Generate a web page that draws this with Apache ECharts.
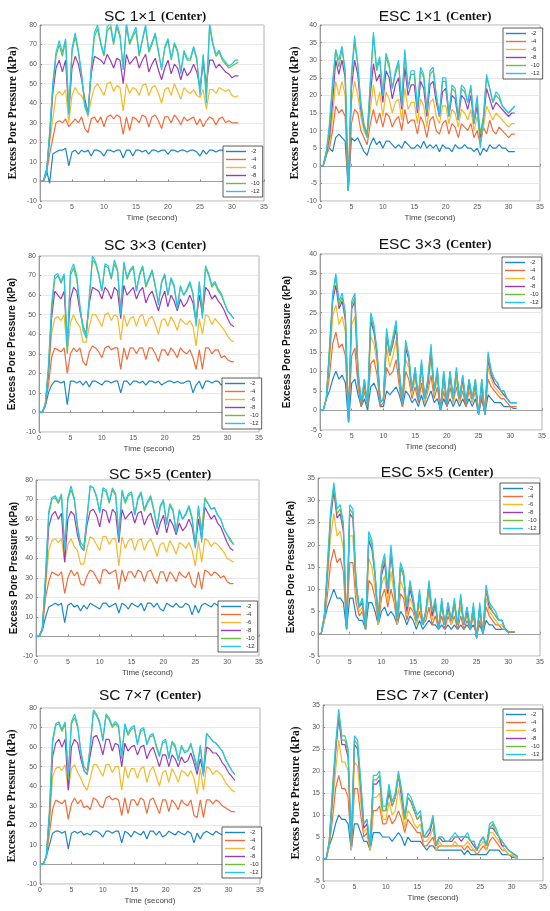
<!DOCTYPE html>
<html>
<head>
<meta charset="utf-8">
<script src="https://cdn.jsdelivr.net/npm/echarts@6/dist/echarts.min.js"></script>
<style>
  html, body { margin: 0; padding: 0; background: #fff; }
  #main { width: 550px; height: 911px; }
</style>
</head>
<body>
<div id="main"></div>
<script>
// time axis (s)
const T = [0,0.5,1,1.5,2,2.5,3,3.5,4,4.5, 5,5.5,6,6.5,7,7.5,8,8.5,9,9.5, 10,10.5,11,11.5,12,12.5,13,13.5,14,14.5, 15,15.5,16,16.5,17,17.5,18,18.5,19,19.5, 20,20.5,21,21.5,22,22.5,23,23.5,24,24.5, 25,25.5,26,26.5,27,27.5,28,28.5,29,29.5, 30,30.5,31];
const DEPTHS = ['-2', '-4', '-6', '-8', '-10', '-12'];

// SC 1x1
const SC1_2  = [0,0,6,-1,14,15,16,16,17,8, 15,16,14,16,15,16,13,16,16,15, 13,16,16,15,16,16,12,16,16,13, 16,16,15,16,14,16,16,15,16,16, 14,16,16,15,16,16,15,16,16,15, 13,16,14,16,16,15,16,16,15,15, 14,15,15];
const SC1_4  = [0,0,4,14,22,30,31,30,32,28, 30,32,30,33,27,25,32,33,30,33, 28,33,34,32,34,33,24,33,26,33, 32,30,34,33,28,33,34,31,27,33, 33,30,34,32,29,33,31,32,33,29, 32,28,31,33,32,29,32,33,30,31, 30,30,30];
const SC1_6  = [0,0,4,20,32,44,46,44,47,30, 44,48,45,44,40,33,42,48,50,47, 44,50,51,46,49,48,36,50,45,48, 47,44,49,50,44,48,49,45,40,47, 48,44,50,46,42,48,46,45,47,44, 43,47,37,47,47,45,48,47,46,47, 44,43,44];
const SC1_8  = [0,0,4,22,45,58,62,56,62,35, 58,64,60,52,42,35,55,64,63,62, 60,65,62,58,63,62,50,65,60,62, 64,58,62,65,56,60,63,57,52,58, 62,55,60,58,52,58,54,56,60,56, 48,60,50,62,62,58,60,58,56,55, 53,54,54];
const SC1_10 = [0,0,4,24,48,64,70,64,72,36, 66,74,66,54,40,35,57,74,78,70, 64,77,79,70,79,74,58,79,70,74, 77,64,72,79,66,70,75,66,58,68, 72,62,70,66,56,66,62,62,68,62, 46,64,46,79,70,64,66,62,60,58, 59,60,61];
const SC1_12 = [0,0,4,25,50,66,72,66,73,34, 68,76,67,55,38,34,58,76,80,71, 65,79,81,71,81,75,57,81,71,75, 79,65,73,80,67,71,76,67,57,69, 73,63,71,67,55,67,63,63,69,63, 44,65,40,81,71,65,67,63,61,59, 60,62,62];

// ESC 1x1
const ESC1_2  = [0,0,4,5,4,8,9,8,7,-7, 8,7,8,6,4,3,6,8,6,7, 5,7,7,6,5,6,5,7,6,5, 5,6,5,7,5,6,5,6,4,6, 5,5,4,6,5,5,6,5,5,4, 5,3,5,4,6,5,5,6,5,5, 4,4,4];
const ESC1_4  = [0,0,3,5,10,17,15,16,14,-7, 12,16,15,10,8,6,12,16,12,15, 11,15,14,11,13,14,10,16,12,13, 13,9,14,12,8,13,14,10,9,12, 13,9,12,11,8,12,11,10,12,8, 10,6,11,9,13,10,9,11,10,9, 8,9,9];
const ESC1_6  = [0,0,3,6,14,24,20,24,20,-7, 18,24,20,14,10,8,16,23,17,21, 14,21,19,15,18,19,13,22,16,18, 18,12,19,17,11,18,19,14,12,17, 17,12,16,15,11,16,15,13,16,10, 14,7,11,17,15,13,15,14,13,12, 11,12,12];
const ESC1_8  = [0,0,3,8,18,30,26,30,25,-7, 22,30,26,16,11,9,20,29,24,26, 18,27,25,19,23,25,16,28,20,23, 23,15,24,22,14,23,24,18,14,21, 22,14,20,19,13,20,19,16,20,12, 17,8,13,22,19,16,18,17,16,15, 14,15,15];
const ESC1_10 = [0,0,3,10,22,33,28,33,27,-7, 25,35,29,18,12,9,23,37,27,30, 20,31,28,22,26,29,18,32,22,26, 26,17,27,25,16,26,27,20,15,24, 24,15,22,21,14,22,21,18,22,13, 19,9,14,25,22,18,20,19,17,16, 15,16,17];
const ESC1_12 = [0,0,4,12,24,33,30,34,27,-7, 26,37,29,17,11,8,24,38,28,31, 20,32,29,22,27,30,17,33,22,27, 27,16,28,26,15,27,28,20,14,25, 25,14,23,22,13,23,22,18,23,12, 20,5,14,26,22,18,21,20,17,16, 15,16,17];

// SC 3x3
const SC3_2  = [0,0,3,10,14,16,16,15,16,4, 16,16,15,16,14,16,13,16,16,15, 14,16,16,15,16,16,10,16,16,14, 16,16,15,16,14,16,16,15,16,14, 15,16,16,15,16,15,15,16,16,10, 14,16,12,16,16,15,16,16,14,15, 15,15,15];
const SC3_4  = [0,0,4,14,28,33,32,31,33,20, 30,33,31,33,26,24,31,34,33,31, 28,33,34,32,33,33,22,33,27,33, 33,30,33,33,27,33,33,30,26,32, 32,29,33,31,28,33,31,30,32,28, 22,32,22,33,33,30,32,32,28,29, 27,26,26];
const SC3_6  = [0,0,4,18,40,48,49,47,50,30, 46,50,46,44,36,36,44,50,50,47, 44,50,51,47,50,49,37,50,44,48, 49,44,49,50,44,48,49,45,40,47, 48,44,49,46,42,48,46,45,47,44, 34,48,40,50,49,45,48,46,44,42, 39,37,36];
const SC3_8  = [0,0,4,20,48,62,60,58,62,35, 58,64,62,52,44,40,56,64,63,62, 58,64,62,58,64,62,48,65,60,62, 64,58,62,64,56,60,62,57,52,58, 62,54,60,57,52,58,54,56,60,56, 46,60,50,64,62,58,60,57,55,52, 48,45,44];
const SC3_10 = [0,0,4,22,52,68,70,66,70,34, 70,74,68,54,44,40,58,78,76,70, 62,75,74,68,76,72,52,76,68,72, 74,62,70,74,64,68,72,64,56,66, 70,60,68,64,54,64,60,62,66,60, 46,66,52,74,70,64,66,62,60,56, 52,50,48];
const SC3_12 = [0,0,4,24,55,70,71,67,71,30, 72,76,70,55,42,38,59,80,77,71, 62,76,75,69,78,73,50,77,69,73, 75,62,71,75,65,69,73,65,55,67, 71,60,69,65,53,65,60,63,67,61, 44,67,48,75,71,65,67,63,61,56, 52,50,48];

// ESC 3x3
const ESC3_2  = [0,0,3,5,8,10,8,9,7,-3, 7,8,4,1,3,0,6,7,5,1, 1,5,4,5,6,4,1,5,4,2, 3,1,4,1,3,5,2,3,0,3, 1,3,1,3,1,3,1,3,1,3, -1,3,-1,4,3,2,2,2,1,1, 1,0.5,0.5];
const ESC3_4  = [0,0,3,9,17,20,16,17,14,-2, 14,16,6,1,5,1,12,13,9,1, 2,11,9,10,13,6,1,10,8,3, 6,2,7,2,5,9,3,6,0,5, 1,6,2,6,2,5,1,5,2,5, -1,4,-1,8,6,5,4,3,3,2, 1,1,1];
const ESC3_6  = [0,0,3,12,24,27,22,24,20,-2, 22,24,8,2,6,1,19,17,12,2, 3,16,11,14,18,8,2,13,11,4, 8,3,10,2,6,13,4,8,0,7, 2,8,2,8,2,7,2,6,2,6, -1,6,-1,11,8,6,5,4,4,3, 2,2,2];
const ESC3_8  = [0,0,3,15,28,32,26,28,23,-3, 26,28,9,2,7,1,23,20,14,2, 3,19,14,17,21,9,2,16,13,5, 10,3,12,3,7,15,5,10,0,9, 2,9,3,10,3,8,2,7,3,7, -1,7,-1,13,9,7,6,5,4,3, 2,2,2];
const ESC3_10 = [0,0,3,16,29,34,27,29,24,-3, 27,29,10,2,8,1,24,21,15,2, 3,20,14,18,22,10,2,17,14,5, 11,3,12,3,8,16,5,10,0,10, 2,10,3,10,3,9,2,8,3,8, -1,8,-1,14,10,8,7,5,5,3, 2,2,2];
const ESC3_12 = [0,0,3,16,30,35,28,30,25,-3, 28,30,10,2,8,1,25,22,15,2, 3,21,15,19,23,10,2,18,14,5, 11,3,13,3,8,17,5,11,0,10, 2,10,3,11,3,9,2,8,3,8, -1,8,-1,15,10,8,7,5,5,3, 2,2,2];

// SC 5x5
const SC5_2  = [0,0,3,10,15,16,17,16,17,7, 16,17,15,16,13,16,14,17,16,15, 14,17,17,15,16,17,12,17,16,14, 17,16,15,17,13,17,17,15,17,14, 13,17,16,15,17,15,15,17,16,11, 16,12,16,17,16,15,17,16,15,16, 15,15,15];
const SC5_4  = [0,0,4,20,28,33,32,31,33,22, 30,34,31,33,27,26,31,34,33,30, 27,34,34,32,33,34,24,34,28,33, 33,30,34,33,28,33,34,30,27,33, 33,28,33,31,28,33,31,30,33,27, 25,33,24,34,33,31,33,32,30,31, 28,27,27];
const SC5_6  = [0,0,4,25,44,49,50,48,50,38, 47,50,46,44,37,37,45,51,50,47, 44,51,51,47,50,50,36,51,45,49, 50,44,49,50,44,48,50,46,41,47, 48,43,49,46,42,48,47,45,48,44, 36,49,38,50,49,46,48,47,45,43, 40,39,38];
const SC5_8  = [0,0,4,28,56,62,64,60,63,38, 60,64,62,52,46,44,57,64,65,62, 56,65,64,58,65,63,48,65,60,62, 64,58,63,64,57,61,63,57,52,58, 62,53,60,57,52,58,54,56,60,56, 46,60,50,66,63,60,62,58,56,52, 48,45,44];
const SC5_10 = [0,0,4,30,62,70,71,68,72,46, 70,75,70,56,48,46,60,77,76,71, 64,75,74,68,75,72,52,74,68,72, 73,62,70,73,64,68,71,64,56,66, 69,58,67,64,54,64,60,62,66,60, 47,66,54,71,68,65,66,62,60,55, 52,50,47];
const SC5_12 = [0,0,4,32,64,71,72,69,73,44, 71,77,71,57,46,44,61,77,76,72, 63,76,75,69,76,73,50,75,69,73, 74,62,71,74,65,69,72,65,55,67, 70,57,68,65,53,65,60,63,67,61, 45,67,48,70,68,65,66,62,60,55, 52,49,47];

// ESC 5x5
const ESC5_2  = [0,0,3,6,8,10,8,8,7,1, 8,8,4,3,3,1,7,7,5,2, 5,6,4,5,4,2,5,4,2,4, 3,1,3,1,2,3,2,2,1,2, 1,2,1,2,1,2,1,2,1,2, 0,2,0,3,2,2,1,1,1,1, 0.3,0.3,0.3];
const ESC5_4  = [0,0,3,9,16,19,16,17,14,1, 16,16,7,4,5,1,12,11,8,2, 8,10,6,10,7,2,9,8,3,6, 5,2,5,2,3,6,2,4,1,4, 1,4,2,4,1,4,1,3,1,4, -1,3,0,6,4,3,2,2,1,1, 0.3,0.3,0.3];
const ESC5_6  = [0,0,3,12,22,27,22,23,19,1, 22,22,9,5,6,1,17,15,10,2, 11,13,7,14,9,2,12,10,4,8, 6,2,7,2,4,9,3,6,1,6, 2,5,2,6,2,6,2,4,1,5, -1,5,0,8,5,4,3,2,2,1, 0.5,0.5,0.5];
const ESC5_8  = [0,0,4,14,26,32,26,27,23,1, 27,26,11,6,7,1,21,19,13,3, 13,16,9,18,11,3,15,13,5,10, 7,3,9,2,5,11,4,7,1,7, 2,6,3,7,2,8,2,5,1,6, -1,6,0,10,6,5,4,3,3,1, 0.5,0.5,0.5];
const ESC5_10 = [0,0,4,15,27,33,27,28,24,1, 28,27,11,6,8,1,22,20,13,3, 14,17,10,19,11,3,15,13,6,11, 8,3,9,2,5,11,5,7,1,7, 2,7,3,7,2,8,2,6,1,6, -1,6,0,10,7,5,4,3,3,1, 0.5,0.5,0.5];
const ESC5_12 = [0,0,4,16,28,34,28,29,25,1, 29,28,12,6,8,1,23,21,14,3, 15,18,10,20,12,3,16,14,6,12, 8,3,10,2,5,12,5,8,1,8, 2,7,3,8,2,9,2,6,1,7, -1,7,0,11,7,6,5,3,3,1, 0.5,0.5,0.5];

// SC 7x7
const SC7_2  = [0,0,4,10,16,17,17,16,17,8, 16,17,16,17,15,16,15,17,17,16, 14,17,17,16,17,17,11,17,16,14, 17,16,15,17,13,17,17,15,17,14, 15,17,16,15,17,16,15,17,16,11, 16,13,16,17,16,15,17,16,15,16, 15,14,14];
const SC7_4  = [0,0,4,16,28,33,32,31,33,23, 31,34,31,33,29,30,28,34,33,30, 29,34,35,33,34,33,25,34,26,33, 33,30,34,33,26,33,34,30,26,33, 33,27,33,31,28,33,31,30,33,25, 24,33,24,33,33,31,33,32,30,29, 28,27,27];
const SC7_6  = [0,0,4,20,45,49,50,48,51,38, 49,51,47,44,40,38,44,51,51,48, 45,51,51,47,50,50,38,50,44,49, 49,44,49,50,42,48,50,45,40,47, 48,42,49,46,42,48,47,45,48,44, 36,49,38,50,49,46,48,47,45,42, 40,38,37];
const SC7_8  = [0,0,4,24,55,62,64,60,64,38, 60,64,62,54,48,46,56,65,66,62, 56,64,64,58,62,61,50,62,58,60, 61,56,60,61,54,58,60,55,50,56, 56,50,56,54,50,55,52,53,57,52, 46,54,46,60,59,57,57,55,52,50, 47,45,43];
const SC7_10 = [0,0,4,26,62,71,72,68,72,46, 72,75,70,58,50,48,60,78,76,72, 64,76,74,70,72,70,56,71,66,69, 70,62,68,69,62,65,66,61,56,62, 63,55,62,60,54,60,58,58,61,56, 50,60,48,67,65,63,62,60,58,54, 51,48,46];
const SC7_12 = [0,0,4,28,64,72,73,69,73,44, 73,77,71,57,48,46,61,79,77,73, 63,77,75,71,73,71,54,72,67,70, 71,61,69,70,61,66,67,60,55,63, 64,54,63,61,53,61,57,58,62,55, 48,61,45,67,65,63,62,60,58,54, 51,48,46];

// ESC 7x7
const ESC7_2  = [0,0,3,5,8,10,9,9,8,2, 8,8,6,4,4,2,6,6,6,5, 5,5,4,5,6,5,3,5,4,4, 4,4,3,2,3,3,2,2,2,2, 2,2,2,2,2,1,2,1,1,1, 1,1,1,2,2,2,2,1,1,1, 0.5,0.3,0.2];
const ESC7_4  = [0,0,3,9,16,19,16,16,14,2, 16,16,10,5,6,2,11,11,12,8, 8,10,8,9,11,9,6,9,8,7, 6,6,3,3,4,5,2,3,3,3, 3,3,3,3,3,2,3,2,2,1, 2,3,2,4,5,4,3,2,2,1, 1,0.5,0.3];
const ESC7_6  = [0,0,3,12,20,27,22,22,20,2, 22,21,13,6,7,2,14,14,15,9, 9,13,10,11,16,12,7,11,10,8, 7,8,4,4,5,7,2,4,3,3, 3,3,4,3,3,3,4,3,2,2, 3,4,2,6,6,5,4,3,2,1, 1,0.5,0.3];
const ESC7_8  = [0,0,4,14,24,32,26,26,23,3, 26,25,16,7,8,3,17,17,18,11, 11,15,12,14,19,14,9,14,13,11, 9,10,5,5,6,9,3,5,4,4, 4,4,5,5,4,5,5,4,3,2, 4,5,3,7,7,6,5,3,3,2, 1.5,1,0.5];
const ESC7_10 = [0,0,4,15,25,33,27,27,24,3, 27,26,17,8,9,3,18,18,19,11, 11,16,12,14,19,15,9,14,13,11, 9,10,5,6,7,9,3,5,5,4, 4,5,5,5,5,5,5,4,4,2, 4,5,3,7,8,6,5,4,3,2, 1.5,1,0.5];
const ESC7_12 = [0,0,4,16,26,34,28,28,25,3, 28,27,18,8,9,3,19,19,20,12, 12,17,13,15,20,16,10,15,14,12, 10,11,5,6,7,10,3,5,5,4, 4,5,6,5,5,5,6,4,4,2, 4,5,3,8,8.5,7,5,4,3,2, 1.5,1,0.5];

const COLORS = ['#1b87c9', '#f26b3a', '#f6b929', '#9a3db4', '#6dbf3b', '#25c4ee'];

// layout of the 8 panels: grid [left, top, width, height]
const panels = [
  { name: 'SC 1×1', tx: 150, ty: 3, serif: true, g: [40, 25, 224, 176], y: [-10, 80, 10], ng: 21,
    lg: [223, 146], series: [SC1_2, SC1_4, SC1_6, SC1_8, SC1_10, SC1_12] },
  { name: 'ESC 1×1', tx: 430, ty: 3, serif: true, g: [320, 25, 220, 176], y: [-10, 40, 5], ng: 19,
    lg: [503, 28], series: [ESC1_2, ESC1_4, ESC1_6, ESC1_8, ESC1_10, ESC1_12] },
  { name: 'SC 3×3', tx: 150, ty: 232, serif: false, g: [39, 256, 220, 176], y: [-10, 80, 10], ng: 22,
    lg: [222, 378], series: [SC3_2, SC3_4, SC3_6, SC3_8, SC3_10, SC3_12] },
  { name: 'ESC 3×3', tx: 430, ty: 231, serif: false, g: [320, 254, 222, 176], y: [-5, 40, 5], ng: 28,
    lg: [502, 257], series: [ESC3_2, ESC3_4, ESC3_6, ESC3_8, ESC3_10, ESC3_12] },
  { name: 'SC 5×5', tx: 155, ty: 461, serif: false, g: [36, 480, 223, 176], y: [-10, 80, 10], ng: 17,
    lg: [218, 601], series: [SC5_2, SC5_4, SC5_6, SC5_8, SC5_10, SC5_12] },
  { name: 'ESC 5×5', tx: 432, ty: 459, serif: false, g: [318, 478, 222, 178], y: [-5, 35, 5], ng: 22,
    lg: [500, 483], series: [ESC5_2, ESC5_4, ESC5_6, ESC5_8, ESC5_10, ESC5_12] },
  { name: 'SC 7×7', tx: 145, ty: 682, serif: true, g: [40, 708, 220, 176], y: [-10, 80, 10], ng: 22,
    lg: [222, 827], series: [SC7_2, SC7_4, SC7_6, SC7_8, SC7_10, SC7_12] },
  { name: 'ESC 7×7', tx: 427, ty: 682, serif: true, g: [323, 705, 220, 176], y: [-5, 35, 5], ng: 21,
    lg: [503, 709], series: [ESC7_2, ESC7_4, ESC7_6, ESC7_8, ESC7_10, ESC7_12] }
];

const option = { animation: false, backgroundColor: '#fff', title: [], grid: [], xAxis: [], yAxis: [], legend: [], series: [] };

panels.forEach((p, k) => {
  option.title.push({
    text: '{a|' + p.name + '} {b|(Center)}',
    left: p.tx, top: p.ty, textAlign: 'center',
    textStyle: { fontWeight: 'normal', rich: {
      a: { fontFamily: 'Liberation Sans', fontWeight: 'normal', fontSize: 15.5, color: '#111' },
      b: { fontFamily: 'Liberation Serif', fontWeight: 'bold', fontSize: 12.5, color: '#111' }
    } }
  });
  option.grid.push({ left: p.g[0], top: p.g[1], width: p.g[2], height: p.g[3], show: true,
    borderColor: '#9c9c9c', borderWidth: 0.8, backgroundColor: '#fff' });
  option.xAxis.push({
    gridIndex: k, type: 'value', min: 0, max: 35, interval: 5,
    name: 'Time (second)', nameLocation: 'middle', nameGap: 13,
    nameTextStyle: { fontFamily: 'Liberation Sans', fontSize: 8, color: '#444' },
    axisLine: { lineStyle: { color: '#8c8c8c', width: 0.8 } },
    axisTick: { inside: true, length: 2, lineStyle: { color: '#8c8c8c' } },
    axisLabel: { fontSize: 7, color: '#555', margin: 3 },
    splitLine: { show: false }
  });
  option.yAxis.push({
    gridIndex: k, type: 'value', min: p.y[0], max: p.y[1], interval: p.y[2],
    name: 'Excess Pore Pressure (kPa)', nameLocation: 'middle', nameGap: p.ng,
    nameTextStyle: p.serif
      ? { fontFamily: 'Liberation Serif', fontWeight: 'bold', fontSize: 11.5, color: '#111' }
      : { fontFamily: 'Liberation Sans', fontWeight: 'bold', fontSize: 10, color: '#111' },
    axisLine: { lineStyle: { color: '#8c8c8c', width: 0.8 } },
    axisTick: { inside: true, length: 2, lineStyle: { color: '#8c8c8c' } },
    axisLabel: { fontSize: 7, color: '#555', margin: 3 },
    splitLine: { show: true, lineStyle: { color: '#e2e2e2', width: 0.8 } }
  });
  option.legend.push({
    left: p.lg[0], top: p.lg[1], orient: 'vertical', data: DEPTHS,
    icon: 'rect', itemWidth: 20, itemHeight: 1.4, itemGap: 1, padding: [2, 3, 2, 3],
    backgroundColor: '#fff', borderColor: '#333', borderWidth: 0.8,
    textStyle: { fontSize: 6, lineHeight: 7, color: '#333' },
    selectedMode: false
  });
  p.series.forEach((arr, j) => {
    option.series.push({
      type: 'line', name: DEPTHS[j], xAxisIndex: k, yAxisIndex: k,
      showSymbol: false, symbol: 'none', color: COLORS[j],
      lineStyle: { width: 1.2, color: COLORS[j] },
      data: arr.map((v, i) => [T[i], v])
    });
  });
});

const chart = echarts.init(document.getElementById('main'));
chart.setOption(option);
</script>
</body>
</html>
